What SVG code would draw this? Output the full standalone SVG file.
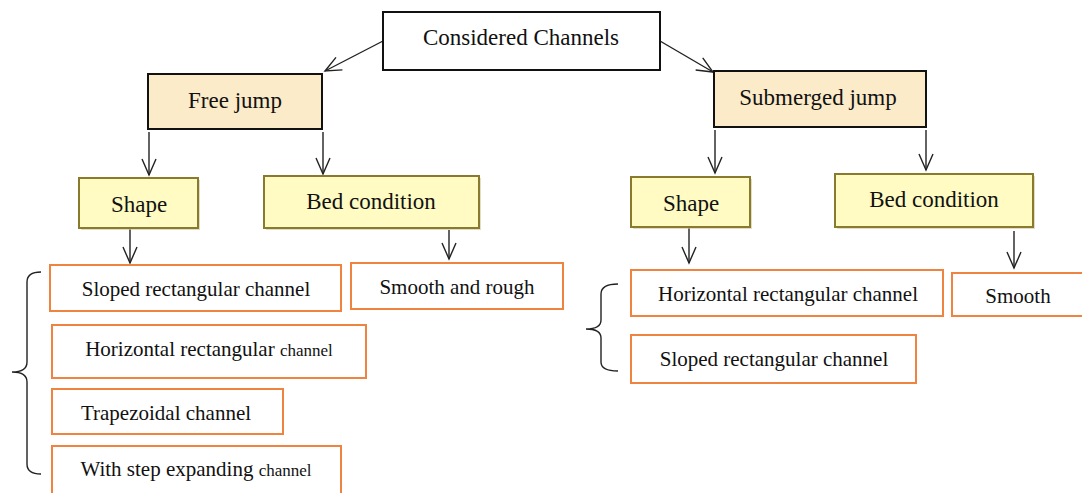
<svg xmlns="http://www.w3.org/2000/svg" width="1082" height="493" viewBox="0 0 1082 493">
<style>
text{font-family:"Liberation Serif","Times New Roman",serif;fill:#111;text-anchor:middle}
.t{font-size:23px}
.s{font-size:21px}
.sm{font-size:17px}
.top{fill:#fff;stroke:#111;stroke-width:2}
.jump{fill:#FCEBC9;stroke:#111;stroke-width:2}
.cat{fill:#FFFBC3;stroke:#8A7A2E;stroke-width:2}
.sh{fill:#cfc7a0;opacity:.6}
.leaf{fill:#fff;stroke:#EE8440;stroke-width:2}
.c{fill:none;stroke:#222;stroke-width:1.4}
</style>
<defs>
<marker id="ah" viewBox="0 0 20 20" refX="18" refY="10" markerWidth="20" markerHeight="20" markerUnits="userSpaceOnUse" orient="auto">
<path d="M2,3 L18,10 L2,17" fill="none" stroke="#222" stroke-width="1.4"/>
</marker>
</defs>
<rect width="1082" height="493" fill="#fff"/>
<g id="connectors">
<line class="c" x1="383" y1="41" x2="325" y2="71" marker-end="url(#ah)"/>
<line class="c" x1="660" y1="41" x2="713" y2="72" marker-end="url(#ah)"/>
<line class="c" x1="149" y1="132" x2="149" y2="175" marker-end="url(#ah)"/>
<line class="c" x1="323" y1="132" x2="323" y2="174" marker-end="url(#ah)"/>
<line class="c" x1="715" y1="130" x2="715" y2="173" marker-end="url(#ah)"/>
<line class="c" x1="926" y1="130" x2="926" y2="170" marker-end="url(#ah)"/>
<line class="c" x1="130" y1="228" x2="130" y2="263" marker-end="url(#ah)"/>
<line class="c" x1="449" y1="230" x2="449" y2="259" marker-end="url(#ah)"/>
<line class="c" x1="689" y1="228" x2="689" y2="263" marker-end="url(#ah)"/>
<line class="c" x1="1014" y1="231" x2="1014" y2="268" marker-end="url(#ah)"/>
<path class="c" d="M41,272 Q27,272 27,282 L27,362 Q27,372 12,372 Q27,372 27,382 L27,464 Q27,474 41,474"/>
<path class="c" d="M618,284 Q601,284 601,294 L601,320 Q601,329 586,329 Q601,329 601,338 L601,362 Q601,371 618,371"/>
</g>
<g id="n-top">
<rect class="top" x="383" y="12" width="277" height="58"/>
<text class="t" x="521" y="45">Considered Channels</text>
</g>
<g id="n-free">
<rect class="jump" x="148" y="74" width="174" height="55"/>
<text class="t" x="235" y="108">Free jump</text>
</g>
<g id="n-sub">
<rect class="jump" x="714" y="71" width="212" height="56"/>
<text class="t" x="818" y="105">Submerged jump</text>
</g>
<g id="n-shape1">
<rect class="sh" x="81" y="180" width="119" height="50"/>
<rect class="cat" x="79" y="178" width="119" height="50"/>
<text class="t" x="139" y="212">Shape</text>
</g>
<g id="n-bed1">
<rect class="sh" x="266" y="178" width="215" height="52"/>
<rect class="cat" x="264" y="176" width="215" height="52"/>
<text class="t" x="371" y="209">Bed condition</text>
</g>
<g id="n-shape2">
<rect class="sh" x="633" y="179" width="119" height="50"/>
<rect class="cat" x="631" y="177" width="119" height="50"/>
<text class="t" x="691" y="211">Shape</text>
</g>
<g id="n-bed2">
<rect class="sh" x="837" y="176" width="198" height="53"/>
<rect class="cat" x="835" y="174" width="198" height="53"/>
<text class="t" x="934" y="207">Bed condition</text>
</g>
<g id="n-l1">
<rect class="leaf" x="50" y="265" width="291" height="46"/>
<text class="s" x="196" y="296">Sloped rectangular channel</text>
</g>
<g id="n-l2">
<rect class="leaf" x="52" y="325" width="314" height="53"/>
<text class="s" x="209" y="356">Horizontal rectangular <tspan class="sm">channel</tspan></text>
</g>
<g id="n-l3">
<rect class="leaf" x="52" y="389" width="231" height="45"/>
<text class="s" x="166" y="420">Trapezoidal channel</text>
</g>
<g id="n-l4">
<rect class="leaf" x="52" y="446" width="289" height="60"/>
<text class="s" x="196" y="476">With step expanding <tspan class="sm">channel</tspan></text>
</g>
<g id="n-l5">
<rect class="leaf" x="351" y="263" width="212" height="46"/>
<text class="s" x="457" y="294">Smooth and rough</text>
</g>
<g id="n-r1">
<rect class="leaf" x="631" y="270" width="312" height="46"/>
<text class="s" x="788" y="301">Horizontal rectangular channel</text>
</g>
<g id="n-r2">
<rect class="leaf" x="631" y="335" width="285" height="48"/>
<text class="s" x="774" y="366">Sloped rectangular channel</text>
</g>
<g id="n-r3">
<rect class="leaf" x="952" y="273" width="140" height="43"/>
<text class="s" x="1018" y="303">Smooth</text>
</g>
</svg>
